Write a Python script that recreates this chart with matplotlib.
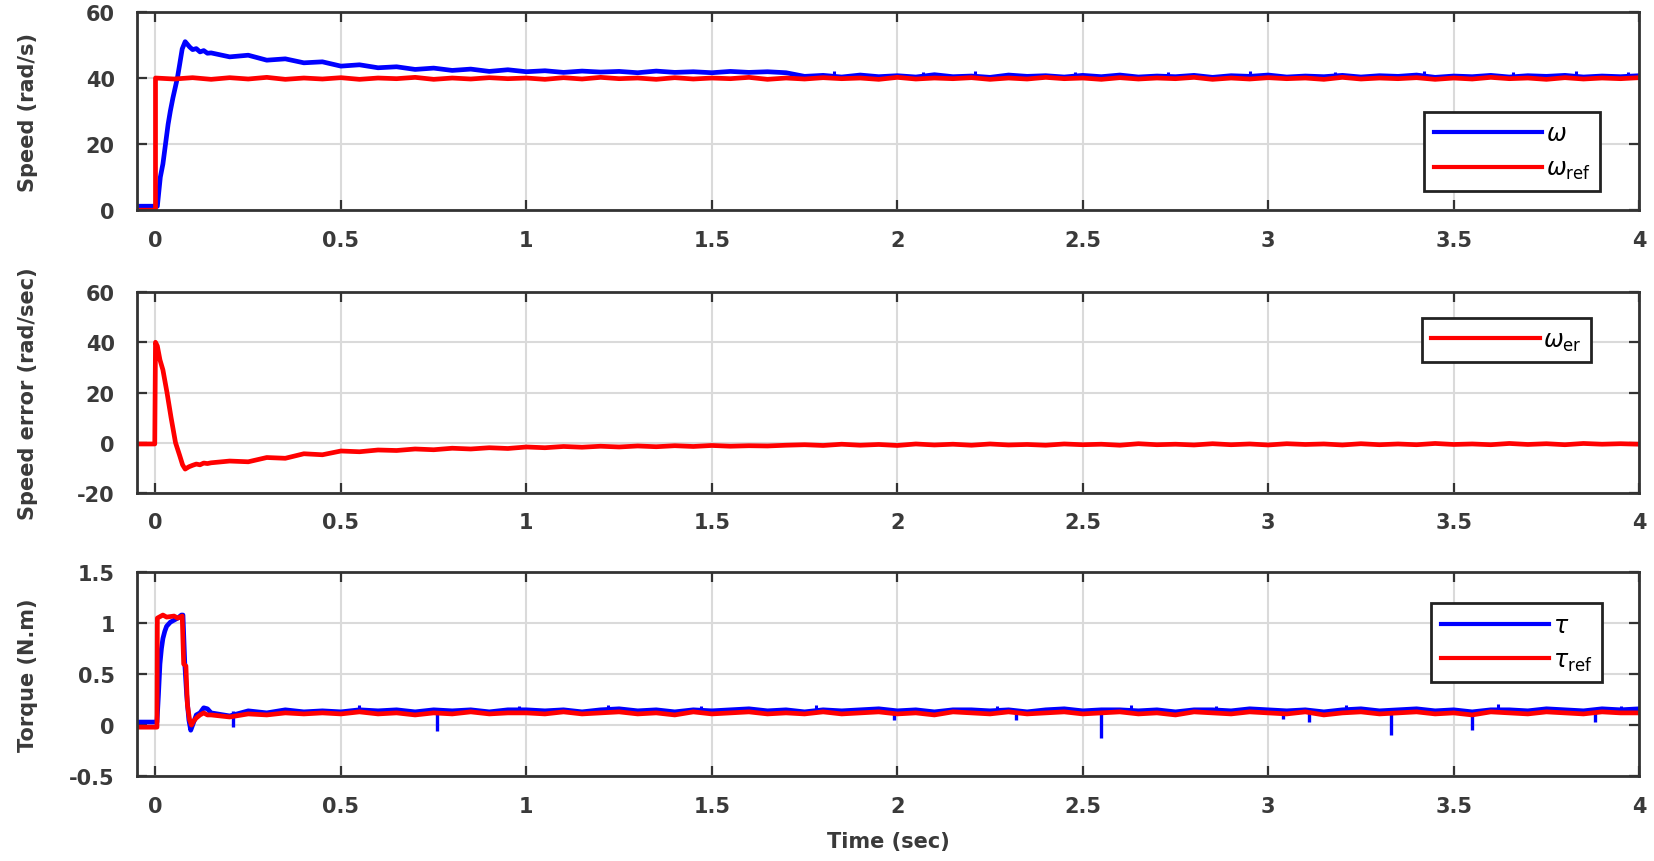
import numpy as np
import matplotlib
matplotlib.use("Agg")
import matplotlib.pyplot as plt
from matplotlib.ticker import FuncFormatter

plt.rcParams['font.family'] = ['DejaVu Sans']
plt.rcParams['mathtext.fontset'] = 'dejavusans'
plt.rcParams['axes.unicode_minus'] = False

# ---------------- data ----------------
# common steady-state sample times (s)
t_ss = [0.15, 0.20, 0.25, 0.30, 0.35, 0.40, 0.45, 0.50, 0.55, 0.60, 0.65, 0.70, 0.75, 0.80,
        0.85, 0.90, 0.95, 1.00, 1.05, 1.10, 1.15, 1.20, 1.25, 1.30, 1.35, 1.40, 1.45, 1.50,
        1.55, 1.60, 1.65, 1.70, 1.75, 1.80, 1.85, 1.90, 1.95, 2.00, 2.05, 2.10, 2.15, 2.20,
        2.25, 2.30, 2.35, 2.40, 2.45, 2.50, 2.55, 2.60, 2.65, 2.70, 2.75, 2.80, 2.85, 2.90,
        2.95, 3.00, 3.05, 3.10, 3.15, 3.20, 3.25, 3.30, 3.35, 3.40, 3.45, 3.50, 3.55, 3.60,
        3.65, 3.70, 3.75, 3.80, 3.85, 3.90, 3.95, 4.00]

# speed omega (rad/s)
w_t_tr = [-0.05, -0.005, 0.005, 0.013, 0.02, 0.027, 0.034, 0.04, 0.047, 0.053, 0.059,
          0.065, 0.072, 0.08, 0.086, 0.092, 0.1, 0.11, 0.12, 0.13, 0.14]
w_tr = [1.2, 1.2, 1.2, 10, 14, 20, 26, 30, 34, 37, 40, 44, 48.8, 51.0, 50.2, 49.4,
        48.6, 48.9, 47.9, 48.3, 47.5]
w_ss = [47.6, 46.4, 46.9, 45.4, 45.8, 44.6, 44.9, 43.6, 44.0, 43.1, 43.4, 42.6, 43.0, 42.3,
        42.7, 42.0, 42.5, 41.9, 42.2, 41.7, 42.1, 41.8, 42.0, 41.6, 42.1, 41.7, 41.9, 41.6,
        42.0, 41.7, 41.9, 41.6, 40.5, 40.8, 40.3, 40.9, 40.4, 40.7, 40.3, 41.0, 40.4, 40.6,
        40.2, 40.9, 40.5, 40.7, 40.3, 40.8, 40.4, 40.9, 40.3, 40.6, 40.4, 40.8, 40.2, 40.7,
        40.5, 40.9, 40.3, 40.6, 40.4, 40.8, 40.3, 40.7, 40.5, 40.9, 40.2, 40.6, 40.4, 40.8,
        40.3, 40.7, 40.5, 40.8, 40.3, 40.6, 40.4, 40.7]
# speed reference
wref_t_tr = [-0.05, 0.0, 0.0, 0.05, 0.1]
wref_tr = [0.0, 0.0, 40.0, 39.7, 40.1]
wref_ss = [39.6, 40.1, 39.7, 40.2, 39.6, 40.0, 39.7, 40.1, 39.6, 40.0, 39.8, 40.2, 39.6, 40.0,
           39.7, 40.1, 39.8, 40.0, 39.6, 40.1, 39.7, 40.2, 39.8, 40.0, 39.6, 40.1, 39.7, 40.0,
           39.8, 40.2, 39.6, 40.0, 39.7, 40.1, 39.8, 40.0, 39.6, 40.2, 39.7, 40.0, 39.8, 40.1,
           39.6, 40.0, 39.7, 40.2, 39.8, 40.0, 39.6, 40.1, 39.7, 40.0, 39.8, 40.2, 39.6, 40.0,
           39.7, 40.1, 39.8, 40.0, 39.6, 40.2, 39.7, 40.0, 39.8, 40.1, 39.6, 40.0, 39.7, 40.2,
           39.8, 40.0, 39.6, 40.1, 39.7, 40.0, 39.8, 40.1]

# speed error (rad/sec)
e_t_tr = [-0.05, -0.002, 0.0, 0.005, 0.012, 0.02, 0.031, 0.042, 0.054, 0.065, 0.073, 0.08,
          0.09, 0.1, 0.11, 0.12, 0.13, 0.14]
e_tr = [-0.5, -0.5, 40.0, 38.5, 33, 29, 20, 10, 0, -5, -8.8, -10.5, -9.6, -9.0, -8.5,
        -8.8, -8.1, -8.3]
e_ss = [-8.0, -7.3, -7.6, -5.9, -6.2, -4.4, -4.8, -3.3, -3.6, -2.9, -3.1, -2.5, -2.8, -2.2,
        -2.5, -2.0, -2.3, -1.7, -2.0, -1.5, -1.8, -1.4, -1.7, -1.3, -1.6, -1.2, -1.5, -1.1,
        -1.4, -1.2, -1.3, -1.0, -0.8, -1.1, -0.6, -1.0, -0.7, -1.1, -0.5, -0.9, -0.6, -1.0,
        -0.5, -0.9, -0.7, -1.0, -0.5, -0.8, -0.6, -1.0, -0.4, -0.8, -0.6, -0.9, -0.4, -0.8,
        -0.5, -0.9, -0.4, -0.7, -0.5, -0.9, -0.4, -0.8, -0.5, -0.8, -0.3, -0.7, -0.5, -0.8,
        -0.3, -0.7, -0.4, -0.8, -0.3, -0.6, -0.4, -0.6]

# torque (N.m)
tau_t_tr = [-0.05, 0.004, 0.008, 0.012, 0.016, 0.02, 0.025, 0.03, 0.04, 0.05, 0.06, 0.07,
            0.074, 0.079, 0.084, 0.09, 0.095, 0.1, 0.105, 0.11, 0.12, 0.13, 0.14]
tau_tr = [0.03, 0.03, 0.3, 0.6, 0.75, 0.85, 0.92, 0.97, 1.01, 1.03, 1.05, 1.08, 1.08, 0.6,
          0.3, 0.05, -0.05, 0.0, 0.05, 0.1, 0.12, 0.17, 0.16]
tau_ss = [0.12, 0.09, 0.14, 0.12, 0.15, 0.13, 0.14, 0.13, 0.15, 0.14, 0.15, 0.13, 0.15, 0.14,
          0.15, 0.13, 0.15, 0.15, 0.14, 0.15, 0.13, 0.15, 0.16, 0.14, 0.15, 0.13, 0.15, 0.14,
          0.15, 0.16, 0.14, 0.15, 0.13, 0.15, 0.14, 0.15, 0.16, 0.14, 0.15, 0.13, 0.15, 0.15,
          0.14, 0.15, 0.13, 0.15, 0.16, 0.14, 0.15, 0.15, 0.14, 0.15, 0.13, 0.15, 0.15, 0.14,
          0.16, 0.15, 0.14, 0.15, 0.13, 0.15, 0.16, 0.14, 0.15, 0.16, 0.14, 0.15, 0.13, 0.15,
          0.15, 0.14, 0.16, 0.15, 0.14, 0.16, 0.15, 0.16]
tauref_t_tr = [-0.05, 0.004, 0.005, 0.02, 0.03, 0.05, 0.06, 0.072, 0.076, 0.082, 0.086,
               0.092, 0.097, 0.103, 0.11, 0.12, 0.13, 0.14]
tauref_tr = [-0.02, -0.02, 1.05, 1.08, 1.06, 1.07, 1.05, 1.07, 0.6, 0.58, 0.2, 0.05, 0.0,
             0.04, 0.07, 0.1, 0.12, 0.1]
tauref_ss = [0.10, 0.08, 0.11, 0.10, 0.12, 0.11, 0.12, 0.11, 0.13, 0.11, 0.12, 0.10, 0.12,
             0.11, 0.13, 0.11, 0.12, 0.12, 0.11, 0.13, 0.11, 0.12, 0.13, 0.11, 0.12, 0.10,
             0.13, 0.11, 0.12, 0.13, 0.11, 0.12, 0.11, 0.13, 0.11, 0.12, 0.13, 0.11, 0.12,
             0.10, 0.13, 0.12, 0.11, 0.13, 0.11, 0.12, 0.13, 0.11, 0.12, 0.13, 0.11, 0.12,
             0.10, 0.13, 0.12, 0.11, 0.13, 0.12, 0.11, 0.13, 0.10, 0.12, 0.13, 0.11, 0.12,
             0.13, 0.11, 0.12, 0.10, 0.13, 0.12, 0.11, 0.13, 0.12, 0.11, 0.13, 0.12, 0.12]
# torque spikes (time, extreme value)
tau_spike_t = [0.21, 0.76, 1.99, 2.32, 2.55, 3.04, 3.11, 3.33, 3.55, 3.88]
tau_spike_v = [-0.02, -0.06, 0.05, 0.05, -0.13, 0.06, 0.03, -0.10, -0.05, 0.03]
tau_spike_base = 0.14
tau_upspike_t = [0.55, 0.98, 1.22, 1.47, 1.78, 2.27, 2.63, 2.86, 3.21, 3.62, 3.95]
tau_upspike_v = [0.2, 0.19, 0.2, 0.19, 0.2, 0.19, 0.2, 0.19, 0.2, 0.21, 0.19]
w_upspike_t = [1.83, 2.07, 2.21, 2.48, 2.73, 2.95, 3.18, 3.42, 3.66, 3.83, 3.97]
w_upspike_v = [42.0, 41.8, 42.1, 41.9, 41.8, 42.0, 41.9, 42.1, 41.8, 42.0, 41.9]
w_upspike_base = 40.5

x_ticks = [0, 0.5, 1, 1.5, 2, 2.5, 3, 3.5, 4]
y_ticks_speed = [0, 20, 40, 60]
y_ticks_err = [-20, 0, 20, 40, 60]
y_ticks_tau = [-0.5, 0, 0.5, 1, 1.5]

# ---------------- plotting ----------------
BLUE = (0, 0, 1)
RED = (1, 0, 0)
TXT = '#3a3a3a'
LW = 3.4

fig = plt.figure(figsize=(16.54, 8.62), dpi=100)
L, W = 0.0828, 0.9082
ax1 = fig.add_axes([L, 0.755, W, 0.230])
ax2 = fig.add_axes([L, 0.427, W, 0.233])
ax3 = fig.add_axes([L, 0.0985, W, 0.2365])

fmt = FuncFormatter(lambda v, p: ('%g' % v))


def style(ax, yticks, ylim, ylabel):
    ax.set_xlim(-0.05, 4.0)
    ax.set_ylim(*ylim)
    ax.set_xticks(x_ticks)
    ax.set_yticks(yticks)
    ax.xaxis.set_major_formatter(fmt)
    ax.yaxis.set_major_formatter(fmt)
    ax.grid(True, color='#dadada', linewidth=1.5)
    ax.set_axisbelow(True)
    ax.tick_params(direction='in', length=7, width=1.6, top=True, right=True,
                   color='#333333', labelcolor=TXT, labelsize=15)
    ax.tick_params(axis='x', pad=14)
    ax.tick_params(axis='y', pad=16)
    for lab in ax.get_xticklabels() + ax.get_yticklabels():
        lab.set_fontweight('bold')
    for s in ax.spines.values():
        s.set_linewidth(2.0)
        s.set_color('#333333')
    ax.set_ylabel(ylabel, fontsize=15, color=TXT, fontweight='bold')
    ax.yaxis.set_label_coords(-0.066, 0.5)


# panel 1: speed
ax1.plot(w_t_tr + t_ss, w_tr + w_ss, color=BLUE, lw=LW, label=r'$\omega$')
ax1.vlines(w_upspike_t, w_upspike_base, w_upspike_v, color=BLUE, lw=2.2)
ax1.plot(wref_t_tr + t_ss, wref_tr + wref_ss, color=RED, lw=LW, label=r'$\omega_{\rm ref}$')
style(ax1, y_ticks_speed, (0, 60), 'Speed (rad/s)')
leg1 = ax1.legend(loc='upper right', bbox_to_anchor=(0.982, 0.555), fontsize=17,
                  handlelength=4.6, handletextpad=0.15, labelspacing=0.45, borderpad=0.4,
                  fancybox=False, edgecolor='#222222', framealpha=1)

# panel 2: speed error
ax2.plot(e_t_tr + t_ss, e_tr + e_ss, color=RED, lw=LW, label=r'$\omega_{\rm er}$')
style(ax2, y_ticks_err, (-20, 60), 'Speed error (rad/sec)')
leg2 = ax2.legend(loc='upper right', bbox_to_anchor=(0.976, 0.93), fontsize=17,
                  handlelength=4.6, handletextpad=0.15, borderpad=0.4,
                  fancybox=False, edgecolor='#222222', framealpha=1)

# panel 3: torque
ax3.plot(tau_t_tr + t_ss, tau_tr + tau_ss, color=BLUE, lw=LW, label=r'$\tau$')
ax3.vlines(tau_spike_t, tau_spike_v, tau_spike_base, color=BLUE, lw=2.4)
ax3.vlines(tau_upspike_t, tau_spike_base, tau_upspike_v, color=BLUE, lw=2.2)
ax3.plot(tauref_t_tr + t_ss, tauref_tr + tauref_ss, color=RED, lw=LW, label=r'$\tau_{\rm ref}$')
style(ax3, y_ticks_tau, (-0.5, 1.5), 'Torque (N.m)')
leg3 = ax3.legend(loc='upper right', bbox_to_anchor=(0.983, 0.905), fontsize=17,
                  handlelength=4.6, handletextpad=0.15, labelspacing=0.45, borderpad=0.4,
                  fancybox=False, edgecolor='#222222', framealpha=1)
ax3.set_xlabel('Time (sec)', fontsize=15, color=TXT, fontweight='bold')
ax3.xaxis.set_label_coords(0.5, -0.27)

for lg in (leg1, leg2, leg3):
    lg.get_frame().set_linewidth(2.0)
    for ln in lg.get_lines():
        ln.set_linewidth(3.0)

fig.savefig('out.png', dpi=100)
